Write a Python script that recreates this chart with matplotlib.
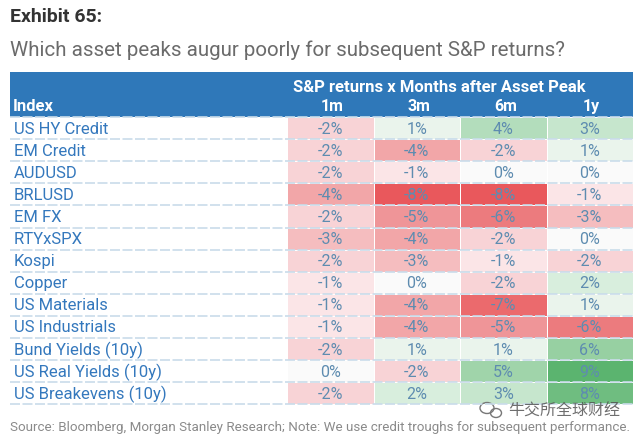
import matplotlib.pyplot as plt
import numpy as np
from matplotlib.colors import LinearSegmentedColormap, Normalize
from matplotlib.patches import Ellipse

assets = ["US HY Credit", "EM Credit", "AUDUSD", "BRLUSD", "EM FX", "RTYxSPX", "Kospi",
          "Copper", "US Materials", "US Industrials", "Bund Yields (10y)",
          "US Real Yields (10y)", "US Breakevens (10y)"]
horizons = ["1m", "3m", "6m", "1y"]
ret_1m = [-2, -2, -2, -4, -2, -3, -2, -1, -1, -1, -2, 0, -2]
ret_3m = [1, -4, -1, -8, -5, -4, -3, 0, -4, -4, 1, -2, 2]
ret_6m = [4, -2, 0, -8, -6, -2, -1, -2, -7, -5, 1, 5, 3]
ret_1y = [3, 1, 0, -1, -3, 0, -2, 2, 1, -6, 6, 9, 8]

values = np.array([ret_1m, ret_3m, ret_6m, ret_1y]).T

plt.rcParams['font.family'] = ['Roboto', 'DejaVu Sans']

W, H = 640, 439
fig = plt.figure(figsize=(W / 100, H / 100), dpi=100)
ax = fig.add_axes([0, 0, 1, 1])
ax.set_xlim(0, W)
ax.set_ylim(H, 0)
ax.axis('off')

blue = '#2F78B9'
label_blue = '#3478BD'
val_col = '#5E8CB0'

# layout (pixels)
left, right = 10, 633
top_band, bot_band = 73, 118
row_h = 22.1
col_x0, col_w = 287, 86.5
row_edges = bot_band + row_h * np.arange(len(assets) + 1)
col_edges = col_x0 + col_w * np.arange(len(horizons) + 1)

# red - white - green scale, anchored on values
vmin, vmax = -8, 9
anchors = [(-8, '#E9585C'), (-6, '#EC7B7E'), (-5, '#EF9598'), (-4, '#F2A6A8'),
           (-2, '#F8D3D6'), (-1, '#FBE5E7'), (0, '#FAFAFA'), (1, '#EAF4EC'),
           (2, '#D8EEDD'), (3, '#C6E6CD'), (5, '#A0D4AA'), (6, '#97D0A2'),
           (9, '#5BB46F')]
cmap = LinearSegmentedColormap.from_list(
    'rg', [((v - vmin) / (vmax - vmin), c) for v, c in anchors])
norm = Normalize(vmin=vmin, vmax=vmax)

ax.pcolormesh(col_edges, row_edges, values, cmap=cmap, norm=norm,
              edgecolor='white', linewidth=0.6)

# header band
ax.add_patch(plt.Rectangle((left, top_band), right - left, bot_band - top_band,
                           color=blue, lw=0))
ax.text(439, 87, "S&P returns x Months after Asset Peak", color='white',
        fontsize=12, fontweight='bold', ha='center', va='center')
ax.text(13, 107, "Index", color='white', fontsize=12, fontweight='bold',
        ha='left', va='center')
for j, h in enumerate(horizons):
    ax.text(col_edges[j] + col_w / 2 + 2, 107, h, color='white', fontsize=11.5,
            fontweight='bold', ha='center', va='center')

# row separators
for y in row_edges:
    ax.plot([left, right], [y, y], color='#C9DCEA', lw=1.2, ls=(0, (6, 1.5)))

# labels and values
for i, name in enumerate(assets):
    yc = (row_edges[i] + row_edges[i + 1]) / 2
    ax.text(14, yc, name, color=label_blue, fontsize=12, ha='left', va='center')
    for j in range(len(horizons)):
        ax.text(col_edges[j] + col_w / 2, yc, f"{values[i, j]}%", color=val_col,
                fontsize=11.5, ha='center', va='center')

# titles
ax.text(10, 17, "Exhibit 65:", color='#333333', fontsize=14, fontweight='bold',
        ha='left', va='center')
ax.text(10, 50, "Which asset peaks augur poorly for subsequent S&P returns?",
        color='#6B6B6B', fontsize=14.8, ha='left', va='center')
ax.text(10, 428, "Source: Bloomberg, Morgan Stanley Research; Note: We use credit troughs "
        "for subsequent performance.", color='#8A8A8A', fontsize=9.6,
        ha='left', va='center')

# watermark
ax.add_patch(Ellipse((487, 409), 14, 11, fill=False, ec='#777777', lw=1))
ax.add_patch(Ellipse((496, 414), 11, 9, fill=False, ec='#777777', lw=1))
ax.text(508, 411, "牛交所全球财经", color='#555555', fontsize=11.5, ha='left', va='center',
        family=['Noto Sans CJK SC', 'DejaVu Sans'], alpha=0.85)

fig.savefig('out.png', dpi=100)
